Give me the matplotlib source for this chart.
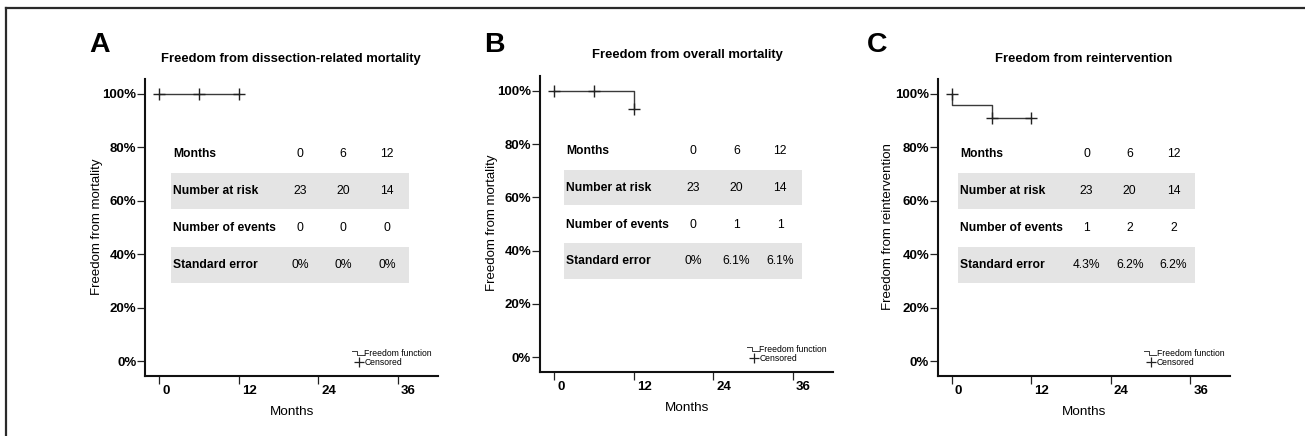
import matplotlib
matplotlib.use("Agg")
import matplotlib.pyplot as plt
from matplotlib.lines import Line2D
from matplotlib.transforms import ScaledTranslation

plt.rcParams['font.family'] = ['Liberation Sans', 'DejaVu Sans']

# ---------------- data ----------------
panel_letters = ["A", "B", "C"]
titles = ["Freedom from dissection-related mortality",
          "Freedom from overall mortality",
          "Freedom from reintervention"]
ylabels = ["Freedom from mortality", "Freedom from mortality",
           "Freedom from reintervention"]
xlabel = "Months"
x_ticks = [0, 12, 24, 36]
y_ticks = [0, 20, 40, 60, 80, 100]
y_ticklabels = ["0%", "20%", "40%", "60%", "80%", "100%"]

# Kaplan-Meier step curves (months, % free)
step_times_A = [0, 12]
step_surv_A = [100, 100]
step_times_B = [0, 12, 12]
step_surv_B = [100, 100, 93.3]
step_times_C = [0, 0, 6, 12]
step_surv_C = [100, 95.7, 90.9, 90.9]

# censored marks
cens_times_A = [0, 6, 12]
cens_surv_A = [100, 100, 100]
cens_times_B = [0, 6, 12]
cens_surv_B = [100, 100, 93.3]
cens_times_C = [0, 6, 12]
cens_surv_C = [100, 90.9, 90.9]

# table contents
row_names = ["Months", "Number at risk", "Number of events", "Standard error"]
table_months = ["0", "6", "12"]
at_risk_A = ["23", "20", "14"]
at_risk_B = ["23", "20", "14"]
at_risk_C = ["23", "20", "14"]
events_A = ["0", "0", "0"]
events_B = ["0", "1", "1"]
events_C = ["1", "2", "2"]
se_A = ["0%", "0%", "0%"]
se_B = ["0%", "6.1%", "6.1%"]
se_C = ["4.3%", "6.2%", "6.2%"]

legend_labels = ["Freedom function", "Censored"]

panels = [
    dict(t=step_times_A, s=step_surv_A, ct=cens_times_A, cs=cens_surv_A,
         rows=[table_months, at_risk_A, events_A, se_A]),
    dict(t=step_times_B, s=step_surv_B, ct=cens_times_B, cs=cens_surv_B,
         rows=[table_months, at_risk_B, events_B, se_B]),
    dict(t=step_times_C, s=step_surv_C, ct=cens_times_C, cs=cens_surv_C,
         rows=[table_months, at_risk_C, events_C, se_C]),
]

# ---------------- layout (pixels) ----------------
W, H = 1305, 436
fig = plt.figure(figsize=(W / 100, H / 100), dpi=100)

def fx(x):
    return x / W

def fy(y):
    return 1 - y / H

# axes boxes: (left, top, right, bottom) in pixels
boxes = [(145, 79, 438, 376), (540, 76, 833, 372), (938, 79, 1230, 376)]
letter_pos = [(89, 52), (484, 52), (867, 52)]
title_pos = [(291, 59), (687, 55), (1084, 59)]
ylabel_pos = [(97, 227), (492, 223), (888, 227)]
xlabel_pos = [(292, 412), (687, 408), (1084, 412)]
tab_shift = [0.0, -0.25, -0.85]

XLIM = (-2.11, 42.0)
YLIM = (-5.6, 105.6)
line_col = "#3a3a3a"
band_col = "#e4e4e4"

row_y = [77.5, 63.7, 49.8, 36.0]
band_half = 6.75
col_x = [21.2, 27.7, 34.3]
label_x = 2.1
band_x0, band_x1 = 1.8, 37.6

for i, p in enumerate(panels):
    l, t, r, b = boxes[i]
    ax = fig.add_axes([fx(l), fy(b), (r - l) / W, (b - t) / H])
    ax.set_xlim(*XLIM)
    ax.set_ylim(*YLIM)
    for side in ("top", "right"):
        ax.spines[side].set_visible(False)
    for side in ("left", "bottom"):
        ax.spines[side].set_linewidth(1.5)
        ax.spines[side].set_color("#111111")
    ax.set_xticks(x_ticks)
    ax.set_xticklabels([str(v) for v in x_ticks], fontsize=9.5, fontweight="bold")
    ax.set_yticks(y_ticks)
    ax.set_yticklabels(y_ticklabels, fontsize=9.5, fontweight="bold")
    ax.tick_params(axis="y", direction="out", length=6, width=0.9, pad=0.3,
                   color="#222222")
    ax.tick_params(axis="x", direction="out", length=5.5, width=0.9, pad=1.0,
                   color="#222222")
    off = ScaledTranslation(3 / 100, 0, fig.dpi_scale_trans)
    for lab in ax.get_xticklabels():
        lab.set_ha("left")
        lab.set_transform(lab.get_transform() + off)
    ax.patch.set_alpha(0)

    # table
    sh = tab_shift[i]
    for k in (1, 3):
        ax.fill_between([band_x0 + sh, band_x1 + sh],
                        row_y[k] - band_half, row_y[k] + band_half,
                        color=band_col, lw=0, zorder=0)
    for k, name in enumerate(row_names):
        ax.text(label_x + sh, row_y[k], name, fontsize=8.7, fontweight="bold",
                ha="left", va="center")
        for j, val in enumerate(p["rows"][k]):
            ax.text(col_x[j] + sh, row_y[k], val, fontsize=8.7,
                    ha="center", va="center")

    # curve
    ax.plot(p["t"], p["s"], drawstyle="steps-post", color=line_col, lw=1.0,
            zorder=3)
    ax.plot(p["ct"], p["cs"], ls="none", marker="+", ms=8, mew=1.0,
            color="#222222", zorder=4)

    # mini legend
    ax.plot([29.0, 29.8, 29.8, 30.8], [3.8, 3.8, 2.4, 2.4], color=line_col,
            lw=0.7)
    ax.plot([30.1], [-0.4], marker="+", ms=7, mew=0.9, color="#222222")
    ax.text(30.9, 3.0, legend_labels[0], fontsize=6.2, ha="left", va="center")
    ax.text(30.9, -0.4, legend_labels[1], fontsize=6.2, ha="left", va="center")

    # texts
    fig.text(fx(letter_pos[i][0]), fy(letter_pos[i][1]), panel_letters[i],
             fontsize=20.5, fontweight="bold", ha="left", va="baseline")
    fig.text(fx(title_pos[i][0]), fy(title_pos[i][1]), titles[i],
             fontsize=9.4, fontweight="bold", ha="center", va="center")
    fig.text(fx(ylabel_pos[i][0]), fy(ylabel_pos[i][1]), ylabels[i],
             fontsize=9.5, rotation=90, ha="center", va="center")
    fig.text(fx(xlabel_pos[i][0]), fy(xlabel_pos[i][1]), xlabel,
             fontsize=9.7, ha="center", va="center")

# outer frame (top and left)
fig.add_artist(Line2D([fx(6), 1.0], [fy(8), fy(8)], color="#2a2a2a", lw=1.6,
                      transform=fig.transFigure))
fig.add_artist(Line2D([fx(6), fx(6)], [fy(8), 0.0], color="#2a2a2a", lw=1.6,
                      transform=fig.transFigure))

fig.savefig("out.png", dpi=100)
